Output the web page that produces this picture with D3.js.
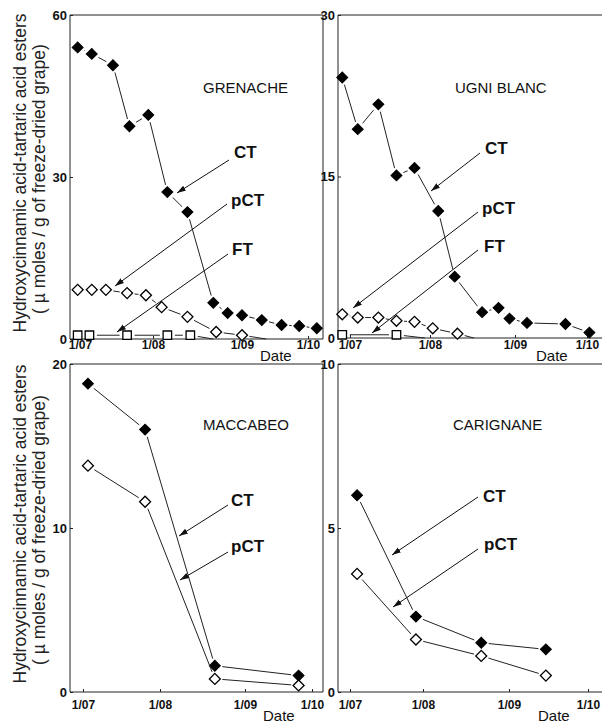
<!DOCTYPE html>
<html lang="en">
<head>
<meta charset="UTF-8">
<title>Hydroxycinnamic acid-tartaric acid esters in grapes</title>
<script src="https://d3js.org/d3.v7.min.js"></script>
<style>
    body { margin: 0; background: #fff; }
    svg { display: block; font-family: "Liberation Sans", Arial, sans-serif; }
    .axis text { font-weight: bold; fill: #111; }
    .axis line { stroke: #222; }
    .axis path { display: none; }
    .frame { fill: none; stroke: #222; stroke-width: 1; }
    .cultivar { font-size: 15px; fill: #111; }
    .tag { font-size: 17px; font-weight: bold; fill: #111; }
    .ylab { font-size: 17.5px; fill: #222; }
</style>
</head>
<body>
<svg width="602" height="724"></svg>
<script>
// Dates are day/month, values in µmoles / g of freeze-dried grape
const monthTicks = ["1/07", "1/08", "1/09", "1/10"];

// Grenache
const grenacheCTDates = ["30/06", "6/07", "15/07", "22/07", "30/07", "6/08", "13/08", "22/08", "27/08", "1/09", "10/09", "19/09", "27/09", "5/10"];
const grenacheCT = [54, 52.8, 50.7, 39.4, 41.5, 27.2, 23.5, 6.7, 4.8, 4.4, 3.5, 2.6, 2.4, 2.0];
const grenachePCTDates = ["30/06", "6/07", "12/07", "21/07", "29/07", "4/08", "13/08", "23/08", "1/09", "12/09"];
const grenachePCT = [9.1, 9.1, 9.1, 8.5, 8.1, 5.9, 4.1, 1.3, 0.7, 0];
const grenacheFTDates = ["30/06", "5/07", "21/07", "6/08", "14/08", "22/08"];
const grenacheFT = [0.7, 0.7, 0.7, 0.7, 0.7, 0];

// Ugni blanc
const ugniCTDates = ["28/06", "4/07", "12/07", "19/07", "26/07", "4/08", "10/08", "20/08", "26/08", "30/08", "6/09", "22/09", "2/10"];
const ugniCT = [24.2, 19.4, 21.7, 15.1, 15.8, 11.8, 5.7, 2.4, 2.8, 1.8, 1.4, 1.3, 0.5];
const ugniPCTDates = ["28/06", "4/07", "12/07", "19/07", "26/07", "2/08", "11/08", "17/08"];
const ugniPCT = [2.2, 1.9, 1.9, 1.6, 1.5, 0.9, 0.4, 0];
const ugniFTDates = ["28/06", "19/07", "30/07"];
const ugniFT = [0.3, 0.3, 0];

// Maccabeo
const maccabeoDates = ["3/07", "26/07", "21/08", "25/09"];
const maccabeoCT = [18.8, 16.0, 1.6, 1.0];
const maccabeoPCT = [13.8, 11.6, 0.8, 0.4];

// Carignane
const carignaneDates = ["4/07", "29/07", "22/08", "15/09"];
const carignaneCT = [6.0, 2.3, 1.5, 1.3];
const carignanePCT = [3.6, 1.6, 1.1, 0.5];

const parse = d3.timeParse("%d/%m");
const fmt = d3.timeFormat("%-d/%m");

// layout of the four panels (pixel positions), tickX = where the month ticks sit
const panels = [
    { name: "GRENACHE", left: 70, right: 323, top: 15, bottom: 339, yMax: 60, yTicks: [0, 30, 60],
      tickX: [80, 153, 242, 308], pad: 1, dateX: 190, dateY: 22, nameAt: [133, 78],
      series: [
          { dates: grenacheCTDates, values: grenacheCT, mark: "filled" },
          { dates: grenachePCTDates, values: grenachePCT, mark: "open" },
          { dates: grenacheFTDates, values: grenacheFT, mark: "square" }
      ],
      notes: [
          { text: "CT", at: [162, 143], from: [159, 145], to: [107, 178] },
          { text: "pCT", at: [159, 191], from: [157, 189], to: [45, 271] },
          { text: "FT", at: [160, 240], from: [158, 239], to: [47, 317] }
      ] },
    { name: "UGNI BLANC", left: 338, right: 602, top: 15, bottom: 338, yMax: 30, yTicks: [0, 15, 30],
      tickX: [350, 430, 515, 587], pad: 2, dateX: 198, dateY: 23, nameAt: [117, 78],
      series: [
          { dates: ugniCTDates, values: ugniCT, mark: "filled" },
          { dates: ugniPCTDates, values: ugniPCT, mark: "open" },
          { dates: ugniFTDates, values: ugniFT, mark: "square" }
      ],
      notes: [
          { text: "CT", at: [145, 139], from: [142, 138], to: [93, 176] },
          { text: "pCT", at: [142, 199], from: [140, 197], to: [15, 293] },
          { text: "FT", at: [144, 237], from: [140, 235], to: [34, 318] }
      ] },
    { name: "MACCABEO", left: 70, right: 323, top: 364, bottom: 692, yMax: 20, yTicks: [0, 10, 20],
      tickX: [83, 160, 245, 312], pad: 8, dateX: 193, dateY: 29, nameAt: [133, 66],
      series: [
          { dates: maccabeoDates, values: maccabeoCT, mark: "filled" },
          { dates: maccabeoDates, values: maccabeoPCT, mark: "open" }
      ],
      notes: [
          { text: "CT", at: [159, 142], from: [158, 141], to: [109, 172] },
          { text: "pCT", at: [159, 188], from: [158, 188], to: [110, 216] }
      ] },
    { name: "CARIGNANE", left: 338, right: 602, top: 364, bottom: 692, yMax: 10, yTicks: [0, 5, 10],
      tickX: [350, 423, 509, 588], pad: 8, dateX: 200, dateY: 29, nameAt: [115, 66],
      series: [
          { dates: carignaneDates, values: carignaneCT, mark: "filled" },
          { dates: carignaneDates, values: carignanePCT, mark: "open" }
      ],
      notes: [
          { text: "CT", at: [143, 138], from: [140, 133], to: [54, 191] },
          { text: "pCT", at: [144, 186], from: [140, 185], to: [55, 243] }
      ] }
];

const svg = d3.select("svg");

svg.append("defs").append("marker")
    .attr("id", "arrow")
    .attr("viewBox", "0 0 10 10")
    .attr("refX", 10).attr("refY", 5)
    .attr("markerUnits", "userSpaceOnUse")
    .attr("markerWidth", 9).attr("markerHeight", 9)
    .attr("orient", "auto")
    .append("path").attr("d", "M0,1.8L10,5L0,8.2Z").attr("fill", "#111");

const diamond = d3.symbol().type(d3.symbolSquare).size(60)();
const square = d3.symbol().type(d3.symbolSquare).size(72)();
const GAP = 7.5;

panels.forEach(p => {
    const x = d3.scaleTime()
        .domain(monthTicks.map(parse))
        .range(p.tickX);
    const y = d3.scaleLinear().domain([0, p.yMax]).range([p.bottom, p.top]);

    const g = svg.append("g");

    // frame
    let framePath = `M${p.left},${p.bottom}V${p.top}H${p.right}`;
    if (p.right < 600) framePath += `V${p.bottom}`;
    g.append("path").attr("class", "frame").attr("d", framePath + `M${p.left},${p.bottom}H${p.right}`);

    // axes
    g.append("g")
        .attr("class", "axis")
        .attr("transform", `translate(0,${p.bottom})`)
        .call(d3.axisBottom(x).tickValues(monthTicks.map(parse)).tickFormat(fmt).tickSize(-3).tickPadding(p.pad))
        .selectAll("text").style("font-size", "12px");

    g.append("g")
        .attr("class", "axis")
        .attr("transform", `translate(${p.left},0)`)
        .call(d3.axisLeft(y).tickValues(p.yTicks).tickSize(-3).tickPadding(3))
        .selectAll("text").style("font-size", "13px");

    g.append("text")
        .attr("x", p.left + p.dateX).attr("y", p.bottom + p.dateY)
        .style("font-size", "15px").attr("fill", "#111")
        .text("Date");

    g.append("text").attr("class", "cultivar")
        .attr("x", p.left + p.nameAt[0]).attr("y", p.top + p.nameAt[1])
        .text(p.name);

    // series: segments pulled back from the markers
    p.series.forEach(s => {
        const pts = s.dates.map((d, i) => ({ px: x(parse(d)), py: y(s.values[i]), v: s.values[i] }));
        const segs = d3.pairs(pts).map(([a, b]) => {
            const dx = b.px - a.px, dy = b.py - a.py;
            const len = Math.hypot(dx, dy);
            const ga = a.v > 0 ? GAP : 0, gb = b.v > 0 ? GAP : 0;
            if (len <= ga + gb) return null;
            return [a.px + dx * ga / len, a.py + dy * ga / len, b.px - dx * gb / len, b.py - dy * gb / len];
        }).filter(Boolean);

        g.selectAll(null).data(segs).join("line")
            .attr("x1", d => d[0]).attr("y1", d => d[1])
            .attr("x2", d => d[2]).attr("y2", d => d[3])
            .attr("stroke", "#222").attr("stroke-width", 1);

        g.selectAll(null).data(pts.filter(d => d.v > 0)).join("path")
            .attr("d", s.mark === "square" ? square : diamond)
            .attr("transform", d => `translate(${d.px},${d.py})` + (s.mark === "square" ? "" : " rotate(45)"))
            .attr("fill", s.mark === "filled" ? "#000" : "#fff")
            .attr("stroke", "#000")
            .attr("stroke-width", s.mark === "filled" ? 1 : 1.3);
    });

    // labels with arrows
    p.notes.forEach(n => {
        g.append("line")
            .attr("x1", p.left + n.from[0]).attr("y1", p.top + n.from[1])
            .attr("x2", p.left + n.to[0]).attr("y2", p.top + n.to[1])
            .attr("stroke", "#111").attr("stroke-width", 1)
            .attr("marker-end", "url(#arrow)");
        g.append("text").attr("class", "tag")
            .attr("x", p.left + n.at[0] + 2).attr("y", p.top + n.at[1])
            .text(n.text);
    });
});

// rotated y-axis titles for each row
[[15, 339], [364, 692]].forEach(([t, b]) => {
    const cy = (t + b) / 2;
    svg.append("text").attr("class", "ylab")
        .attr("transform", `translate(26,${cy - 4}) rotate(-90)`)
        .attr("text-anchor", "middle")
        .text("Hydroxycinnamic acid-tartaric acid esters");
    svg.append("text").attr("class", "ylab")
        .attr("transform", `translate(45,${cy + 2}) rotate(-90)`)
        .attr("text-anchor", "middle")
        .text("( µ moles / g of freeze-dried grape)");
});
</script>
</body>
</html>
